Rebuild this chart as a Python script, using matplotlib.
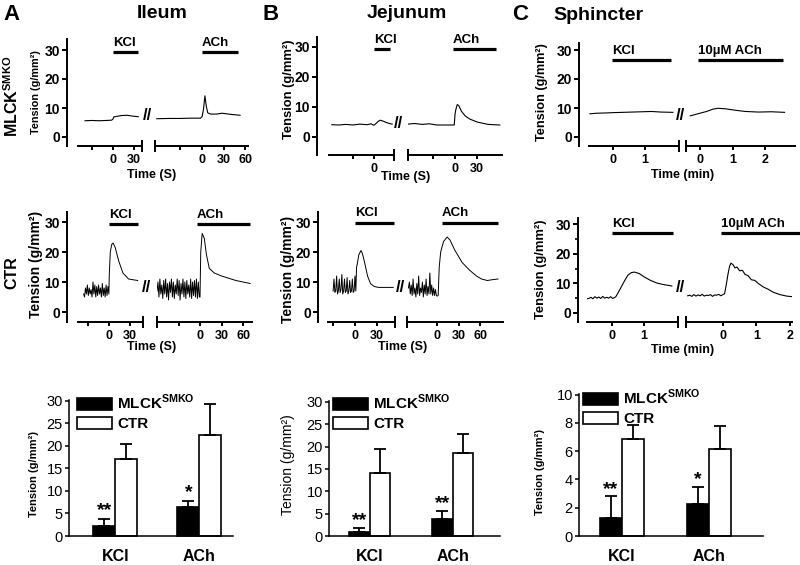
import numpy as np
import matplotlib
matplotlib.use("Agg")
import matplotlib.pyplot as plt
from matplotlib.patches import Patch

plt.rcParams.update({
    "font.family": ["Liberation Sans", "DejaVu Sans"],
    "font.weight": "bold",
    "mathtext.fontset": "custom",
    "mathtext.rm": "Liberation Sans:bold",
    "mathtext.bf": "Liberation Sans:bold",
    "axes.linewidth": 1.4,
})

# ---------------- data: traces (time, tension g/mm2) ----------------
# Ileum, MLCK SMKO
il_ko_kcl_t = [-40, -30, -20, -10, -2, 0, 1, 5, 12, 20, 28, 36]
il_ko_kcl_v = [5.6, 5.7, 5.6, 5.7, 5.8, 6.2, 6.9, 7.1, 7.4, 7.5, 7.2, 7.0]
il_ko_ach_t = [-63, -45, -30, -15, -2, 0, 2, 4, 6, 8, 12, 20, 28, 40, 53]
il_ko_ach_v = [6.3, 6.4, 6.4, 6.5, 6.5, 7.0, 9.5, 14.2, 10.5, 8.3, 7.9, 7.9, 8.2, 7.8, 7.5]
# Ileum, CTR
il_ctr_kcl_noise = [6, 5, 8, 6, 9, 5.5, 8, 6, 7.5, 5, 10, 6, 9, 5, 8.5, 5.5,
                    9, 6, 8, 5, 9.5, 5.5, 8, 5, 9, 5.5, 8.5, 6]
il_ctr_kcl_t = [0.5, 2, 4, 6, 9, 14, 20, 28, 41]
il_ctr_kcl_v = [12, 20, 22.5, 23, 21.5, 17, 13, 11, 10.5]
il_ctr_ach_noise = [7, 10, 5, 11, 6, 9, 4.5, 10.5, 6, 11, 5, 9.5, 4, 10, 6.5, 11,
                    5, 10, 4.5, 9, 6, 11, 5.5, 10.5, 4, 9.5, 6, 11, 5, 10, 4.5,
                    10.5, 6, 9, 5, 11, 4.5, 10, 5.5, 10.5, 5, 11, 4.5, 10, 5]
il_ctr_ach_t = [0, 1, 3, 6, 9, 13, 20, 30, 50, 70]
il_ctr_ach_v = [5, 20, 26.2, 24.5, 19, 14.5, 13, 12, 10.5, 9.5]
# Jejunum, MLCK SMKO
jej_ko_kcl_t = [-60, -50, -40, -30, -20, -10, -4, 0, 3, 6, 9, 13, 18, 22, 26]
jej_ko_kcl_v = [4.1, 4.0, 4.2, 4.0, 4.3, 4.1, 4.4, 3.9, 4.5, 5.2, 5.6, 5.3, 4.8, 4.5, 4.3]
jej_ko_ach_t = [-64, -55, -45, -35, -25, -10, -1, 0, 1, 3, 5, 9, 14, 20, 30, 45, 61]
jej_ko_ach_v = [4.3, 4.5, 4.2, 4.4, 4.0, 4.0, 4.0, 7.5, 9, 10.8, 10.5, 8.5, 7, 6, 5, 4.2, 4.0]
# Jejunum, CTR
jej_ctr_kcl_noise = [7, 11, 6.5, 7, 12, 6, 7, 11, 6.5, 7.5, 12.5, 6, 7, 11, 6.5,
                     7, 11.5, 6, 7, 10.5, 6.5, 7, 11, 6.5, 7, 12, 7]
jej_ctr_kcl_t = [2, 3, 5, 8, 10, 13, 17, 21, 26, 32, 52]
jej_ctr_kcl_v = [15, 16, 19, 20.5, 19.5, 16.5, 12, 9.5, 8.5, 8.2, 8.2]
jej_ctr_ach_noise = [8, 10, 6, 9, 5.5, 11, 6, 8, 5, 9.5, 6, 12, 5.5, 8, 6.5, 10,
                     5, 9, 6, 11, 5.5, 8.5, 6, 13, 6, 9, 5.5, 8, 5.5, 7.5, 5.5]
jej_ctr_ach_t = [0, 1.5, 3, 5, 9, 14, 18, 25, 35, 45, 55, 62, 70, 78, 85]
jej_ctr_ach_v = [5.3, 5.5, 15, 20, 23.5, 25, 24, 20.5, 16.5, 14, 12, 11, 10.5, 10.8, 11]
# Sphincter, MLCK SMKO (time in min)
sph_ko_kcl_t = [-0.72, -0.5, -0.2, 0, 0.3, 0.6, 0.9, 1.2, 1.5, 1.87]
sph_ko_kcl_v = [8.0, 8.2, 8.3, 8.4, 8.5, 8.6, 8.7, 8.8, 8.6, 8.5]
sph_ko_ach_t = [-0.3, -0.2, -0.1, 0, 0.2, 0.4, 0.55, 0.8, 1.1, 1.4, 1.8, 2.2, 2.6]
sph_ko_ach_v = [7.3, 7.6, 7.9, 8.2, 8.8, 9.6, 9.9, 9.7, 9.2, 8.8, 8.6, 8.7, 8.5]
# Sphincter, CTR
sph_ctr_kcl_noise = [4.8, 4.9, 5.3, 4.8, 5.5, 5.0, 5.4, 4.9, 5.6, 5.0, 5.3, 5.0, 5.5, 4.9, 5.2]
sph_ctr_kcl_t = [0.12, 0.2, 0.3, 0.4, 0.5, 0.6, 0.7, 0.85, 1.0, 1.2, 1.4, 1.6, 1.87]
sph_ctr_kcl_v = [5.5, 7.0, 9.0, 11.0, 12.8, 13.6, 13.8, 13.3, 12.2, 11.0, 10.1, 9.6, 9.1]
sph_ctr_ach_noise = [5.8, 6.0, 5.6, 6.2, 5.7, 6.1, 5.8, 6.3, 5.7, 6.0, 5.9, 6.2,
                     5.6, 6.1, 6.0, 6.3, 5.8, 6.2]
sph_ctr_ach_t = [0.05, 0.1, 0.15, 0.2, 0.24, 0.3, 0.36, 0.42, 0.5, 0.58, 0.66, 0.75,
                 0.85, 0.95, 1.05, 1.2, 1.35, 1.5, 1.7, 1.9, 2.07]
sph_ctr_ach_v = [6.5, 9.5, 13.0, 15.8, 16.8, 16.3, 15.2, 15.5, 14.2, 14.4, 13.0, 12.6,
                 11.2, 11.0, 10.0, 8.8, 8.0, 7.0, 6.2, 5.7, 5.5]

# ---------------- data: bar charts ----------------
categories = ["KCl", "ACh"]
il_ko_mean, il_ko_err = [2.2, 6.4], [1.6, 1.4]
il_ctr_mean, il_ctr_err = [17.2, 22.4], [3.3, 7.0]
il_sig = ["**", "*"]
jej_ko_mean, jej_ko_err = [1.0, 3.8], [0.9, 1.8]
jej_ctr_mean, jej_ctr_err = [14.0, 18.5], [5.4, 4.3]
jej_sig = ["**", "**"]
sph_ko_mean, sph_ko_err = [1.3, 2.25], [1.5, 1.25]
sph_ctr_mean, sph_ctr_err = [6.85, 6.15], [1.0, 1.6]
sph_sig = ["**", "*"]

W, H = 800, 565
fig = plt.figure(figsize=(8, 5.65), dpi=100)


def add_px(x0, y0, x1, y1):
    return fig.add_axes([x0 / W, 1 - y1 / H, (x1 - x0) / W, (y1 - y0) / H])


def join(noise, t_noise, t, v):
    if noise is None:
        return t, v
    tn = np.linspace(t_noise[0], t_noise[1], len(noise))
    return np.concatenate([tn, t]), np.concatenate([noise, v])


def segment(box, tlim, ylim, t, v, ticks, labels, endtick, stim, stim_label, stim_y, lw):
    ax = add_px(*box)
    ax.plot(t, v, color="k", lw=lw)
    ax.set_xlim(tlim)
    ax.set_ylim(ylim)
    ax.spines["top"].set_visible(False)
    ax.spines["right"].set_visible(False)
    ax.set_xticks(ticks)
    ax.set_xticklabels(labels, fontsize=9)
    ax.set_xticks([endtick], minor=True)
    ax.tick_params(axis="x", which="major", direction="out", length=3, width=1.4, pad=2.5)
    ax.tick_params(axis="x", which="minor", direction="inout", length=8, width=1.4)
    ax.plot(stim, [stim_y, stim_y], color="k", lw=2.3, clip_on=False,
            solid_capstyle="butt")
    ax.annotate(stim_label, (stim[0], stim_y), xytext=(0, 2.5), textcoords="offset points",
                ha="left", va="bottom", fontsize=9.5, annotation_clip=False)
    return ax


def trace_panel(spine_x, ytop, ybot, y0, y30, seg1, seg2, brk, lw=0.8, minor_y=False):
    unit = (y0 - y30) / 30.0
    ylim = ((y0 - ybot) / unit, (y0 - ytop) / unit)
    a1 = segment((seg1["px"][0], ytop, seg1["px"][1], ybot), seg1["tlim"], ylim,
                 seg1["t"], seg1["v"], seg1["ticks"], seg1["labels"], seg1["tlim"][1],
                 seg1["stim"], seg1["stim_label"], seg1["stim_y"], lw)
    a1.spines["left"].set_position(("outward", (seg1["px"][0] - spine_x) * 0.72))
    a1.set_yticks([0, 10, 20, 30])
    a1.tick_params(axis="y", direction="out", length=3.5, width=1.4, pad=1.5, labelsize=10)
    if minor_y:
        a1.set_yticks([5, 15, 25], minor=True)
        a1.tick_params(axis="y", which="minor", direction="out", length=2.5, width=1.2)
    a2 = segment((seg2["px"][0], ytop, seg2["px"][1], ybot), seg2["tlim"], ylim,
                 seg2["t"], seg2["v"], seg2["ticks"], seg2["labels"], seg2["tlim"][0],
                 seg2["stim"], seg2["stim_label"], seg2["stim_y"], lw)
    a2.spines["left"].set_visible(False)
    a2.set_yticks([])
    fig.text(brk[0] / W, 1 - brk[1] / H, "//", fontsize=12, ha="center", va="center")


# ---- Ileum MLCK ----
t, v = join(None, None, il_ko_kcl_t, il_ko_kcl_v)
t2, v2 = join(None, None, il_ko_ach_t, il_ko_ach_v)
trace_panel(67, 39, 146, 137, 50,
            dict(px=(78, 142), tlim=(-50, 41.4), t=t, v=v, ticks=[-30, 0, 30],
                 labels=["", "0", "30"], stim=[0, 35], stim_label="KCl", stim_y=29.3),
            dict(px=(155, 248), tlim=(-65.5, 64), t=t2, v=v2, ticks=[-30, 0, 30, 60],
                 labels=["", "0", "30", "60"], stim=[0, 50], stim_label="ACh", stim_y=29.3),
            (147, 115))
# ---- Ileum CTR ----
t, v = join(il_ctr_kcl_noise, (-36, 0), il_ctr_kcl_t, il_ctr_kcl_v)
t2, v2 = join(il_ctr_ach_noise, (-60, -1), il_ctr_ach_t, il_ctr_ach_v)
trace_panel(67, 212, 322, 312, 222,
            dict(px=(78, 143), tlim=(-44, 48.6), t=t, v=v, ticks=[-30, 0, 30],
                 labels=["", "0", "30"], stim=[0, 41], stim_label="KCl", stim_y=29.3),
            dict(px=(157, 252), tlim=(-60, 72.5), t=t2, v=v2, ticks=[-30, 0, 30, 60],
                 labels=["", "0", "30", "60"], stim=[-4, 70], stim_label="ACh", stim_y=29.3),
            (146, 287), lw=0.7)
# ---- Jejunum MLCK ----
t, v = join(None, None, jej_ko_kcl_t, jej_ko_kcl_v)
t2, v2 = join(None, None, jej_ko_ach_t, jej_ko_ach_v)
trace_panel(317, 37, 155, 137, 47,
            dict(px=(329, 394), tlim=(-64, 28.6), t=t, v=v, ticks=[-30, 0],
                 labels=["", "0"], stim=[0, 23], stim_label="KCl", stim_y=29.3),
            dict(px=(408, 502), tlim=(-64, 64), t=t2, v=v2, ticks=[-30, 0, 30],
                 labels=["", "0", "30"], stim=[-3, 56], stim_label="ACh", stim_y=29.3),
            (398, 124))
# ---- Jejunum CTR ----
t, v = join(jej_ctr_kcl_noise, (-30, 1), jej_ctr_kcl_t, jej_ctr_kcl_v)
t2, v2 = join(jej_ctr_ach_noise, (-40, -1), jej_ctr_ach_t, jej_ctr_ach_v)
trace_panel(318, 212, 322, 312, 222,
            dict(px=(328, 395), tlim=(-37, 54.5), t=t, v=v, ticks=[-30, 0, 30],
                 labels=["", "0", "30"], stim=[0, 53], stim_label="KCl", stim_y=29.7),
            dict(px=(407, 503), tlim=(-42, 92), t=t2, v=v2, ticks=[0, 30, 60],
                 labels=["0", "30", "60"], stim=[7, 85], stim_label="ACh", stim_y=29.7),
            (400, 287), lw=0.7)
# ---- Sphincter MLCK ----
t, v = join(None, None, sph_ko_kcl_t, sph_ko_kcl_v)
t2, v2 = join(None, None, sph_ko_ach_t, sph_ko_ach_v)
trace_panel(579, 43, 146, 137, 50,
            dict(px=(589, 679), tlim=(-0.75, 2.06), t=t, v=v, ticks=[0, 1],
                 labels=["0", "1"], stim=[-0.03, 1.8], stim_label="KCl", stim_y=26.5),
            dict(px=(686, 795), tlim=(-0.43, 2.92), t=t2, v=v2, ticks=[0, 1, 2],
                 labels=["0", "1", "2"], stim=[-0.06, 2.55], stim_label="10µM ACh",
                 stim_y=26.5),
            (680, 115))
# ---- Sphincter CTR ----
t, v = join(sph_ctr_kcl_noise, (-0.78, 0.08), sph_ctr_kcl_t, sph_ctr_kcl_v)
t2, v2 = join(sph_ctr_ach_noise, (-1.05, 0.0), sph_ctr_ach_t, sph_ctr_ach_v)
trace_panel(578, 218, 322, 313, 224,
            dict(px=(587, 678), tlim=(-0.78, 2.06), t=t, v=v, ticks=[0, 1],
                 labels=["0", "1"], stim=[0, 1.9], stim_label="KCl", stim_y=26.9),
            dict(px=(686, 792), tlim=(-1.1, 2.06), t=t2, v=v2, ticks=[0, 1, 2],
                 labels=["0", "1", "2"], stim=[-0.06, 2.3], stim_label="10µM ACh",
                 stim_y=26.9),
            (680, 288), lw=0.8, minor_y=True)


# ---------------- bar charts ----------------
def bar_panel(box, xlim, ylim, yticks, width, ko_m, ko_e, ctr_m, ctr_e, sig, sig_off, leg_xy):
    ax = add_px(*box)
    x = np.arange(len(categories))
    ax.bar(x - width / 2, ko_m, width, color="k", edgecolor="k", lw=1.2,
           yerr=[np.zeros(len(ko_e)), ko_e], capsize=4.3,
           error_kw=dict(elinewidth=1.3, capthick=1.3, ecolor="k"), clip_on=False)
    ax.bar(x + width / 2, ctr_m, width, color="w", edgecolor="k", lw=1.2,
           yerr=[np.zeros(len(ctr_e)), ctr_e], capsize=4.3,
           error_kw=dict(elinewidth=1.3, capthick=1.3, ecolor="k"), clip_on=False)
    for i in range(len(categories)):
        ax.annotate(sig[i], (x[i] - width / 2, ko_m[i] + ko_e[i]), xytext=(0, sig_off),
                    textcoords="offset points", ha="center", va="baseline", fontsize=14)
    ax.set_xlim(xlim)
    ax.set_ylim(ylim)
    ax.set_yticks(yticks)
    ax.tick_params(axis="y", direction="out", length=3, width=1.1, labelsize=10.5, pad=1.5)
    for lab in ax.get_yticklabels():
        lab.set_fontweight("normal")
    ax.set_xticks(x)
    ax.set_xticklabels(categories, fontsize=11.5)
    ax.tick_params(axis="x", length=0, pad=9.5)
    ax.spines["top"].set_visible(False)
    ax.spines["right"].set_visible(False)
    ax.spines["left"].set_linewidth(1.1)
    ax.spines["bottom"].set_linewidth(1.1)
    ax.legend(handles=[Patch(fc="k", ec="k", lw=1.2), Patch(fc="w", ec="k", lw=1.2)],
              labels=[r"MLCK$^{\mathbf{SMKO}}$", "CTR"], loc="upper left",
              bbox_to_anchor=(leg_xy[0] / W, 1 - leg_xy[1] / H), bbox_transform=fig.transFigure,
              frameon=False, fontsize=11, handlelength=2.3, handleheight=0.85,
              handletextpad=0.35, labelspacing=0.28, borderpad=0, borderaxespad=0)
    return ax


bar_panel((69, 400, 233, 536), (-0.55, 1.40), (0, 30.2), [0, 5, 10, 15, 20, 25, 30], 0.26,
          il_ko_mean, il_ko_err, il_ctr_mean, il_ctr_err, il_sig, 3, (77, 393))
bar_panel((329, 401, 500, 536), (-0.49, 1.57), (0, 30.2), [0, 5, 10, 15, 20, 25, 30], 0.25,
          jej_ko_mean, jej_ko_err, jej_ctr_mean, jej_ctr_err, jej_sig, 2, (333, 393))
bar_panel((579, 394, 763, 536), (-0.49, 1.62), (0, 10.05), [0, 2, 4, 6, 8, 10], 0.25,
          sph_ko_mean, sph_ko_err, sph_ctr_mean, sph_ctr_err, sph_sig, 1.5, (583, 388))


# ---------------- text ----------------
def ftext(x, y, s, **kw):
    fig.text(x / W, 1 - y / H, s, ha=kw.pop("ha", "center"), va=kw.pop("va", "center"), **kw)


for (x, s) in [(11, "A"), (271, "B"), (520, "C")]:
    ftext(x, 14, s, fontsize=16)
ftext(162, 14, "Ileum", fontsize=14)
ftext(407, 14, "Jejunum", fontsize=14)
ftext(598, 15, "Sphincter", fontsize=14)

ftext(12, 96, r"MLCK$^{\mathbf{SMKO}}$", fontsize=11.5, rotation=90)
ftext(12, 273, "CTR", fontsize=11.5, rotation=90)

ylab = "Tension (g/mm²)"
for (x, y, fs, wt) in [(36, 92, 7.8, "bold"), (36, 264, 10, "bold"), (289, 89, 9.4, "bold"),
                       (288, 269, 10, "bold"), (542, 92, 9.2, "bold"), (541, 269, 9.4, "bold"),
                       (34, 474, 8, "bold"), (288, 465, 10, "normal"), (540, 472, 8, "bold")]:
    ftext(x, y, ylab, fontsize=fs, rotation=90, fontweight=wt)

for (x, y, s) in [(152, 175, "Time (S)"), (152, 347, "Time (S)"), (406, 177, "Time (S)"),
                  (403, 347, "Time (S)"), (683, 175, "Time (min)"), (683, 350, "Time (min)")]:
    ftext(x, y, s, fontsize=9)

fig.savefig("out.png", dpi=100)
